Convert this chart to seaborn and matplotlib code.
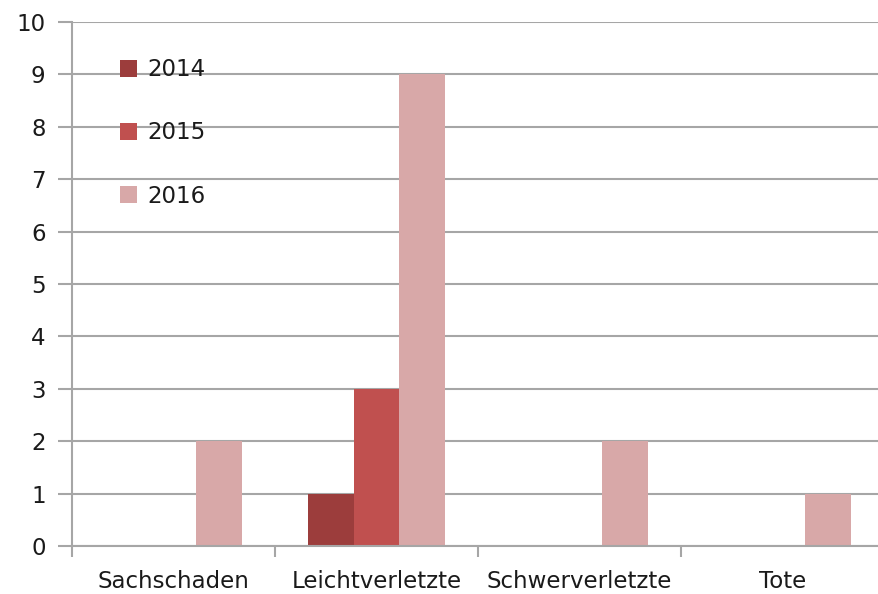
import matplotlib
matplotlib.use("Agg")
import matplotlib.pyplot as plt
import seaborn as sns
import pandas as pd

categories = ["Sachschaden", "Leichtverletzte", "Schwerverletzte", "Tote"]
years = ["2014", "2015", "2016"]
v2014 = [0, 1, 0, 0]
v2015 = [0, 3, 0, 0]
v2016 = [2, 9, 2, 1]
colors = ["#9c3d3c", "#c0504f", "#d8a8a8"]

rows = []
for y, vals in zip(years, [v2014, v2015, v2016]):
    for c, v in zip(categories, vals):
        rows.append({"cat": c, "year": y, "val": v})
df = pd.DataFrame(rows)

sns.set_theme(style="white")
plt.rcParams["font.family"] = ["DejaVu Sans"]

fs = 16.5
fig = plt.figure(figsize=(8.79, 5.94), dpi=100)
ax = fig.add_axes([72/879, 48/594, (884-72)/879, 524/594])

sns.barplot(data=df, x="cat", y="val", hue="year", palette=colors,
            width=0.67, ax=ax, saturation=1, linewidth=0, legend=True)

gcol = "#a6a6a6"
ax.set_xlim(-0.5, 3.5)
ax.set_ylim(0, 10)
ax.set_yticks(range(0, 11))
ax.yaxis.grid(True, color=gcol, linewidth=1.5)
ax.set_axisbelow(True)
ax.set_xlabel("")
ax.set_ylabel("")

for s in ["top", "right"]:
    ax.spines[s].set_visible(False)
for s in ["left", "bottom"]:
    ax.spines[s].set_color(gcol)
    ax.spines[s].set_linewidth(1.5)

ax.tick_params(axis="y", direction="out", length=10, width=1.5, color=gcol,
               labelsize=fs, pad=9, labelcolor="#1a1a1a", left=True)
ax.set_xticks([-0.5, 0.5, 1.5, 2.5, 3.5], minor=True)
ax.tick_params(axis="x", which="major", length=0, labelsize=fs, pad=17,
               labelcolor="#1a1a1a")
ax.tick_params(axis="x", which="minor", direction="out", length=8, width=1.5,
               color=gcol, bottom=True)

leg = ax.legend(loc="upper left", bbox_to_anchor=(0.034, 0.97), frameon=False,
                fontsize=fs, handlelength=0.75, handleheight=0.75,
                labelspacing=1.75, handletextpad=0.45)
for t in leg.get_texts():
    t.set_color("#1a1a1a")

fig.savefig("out.png", dpi=100)
